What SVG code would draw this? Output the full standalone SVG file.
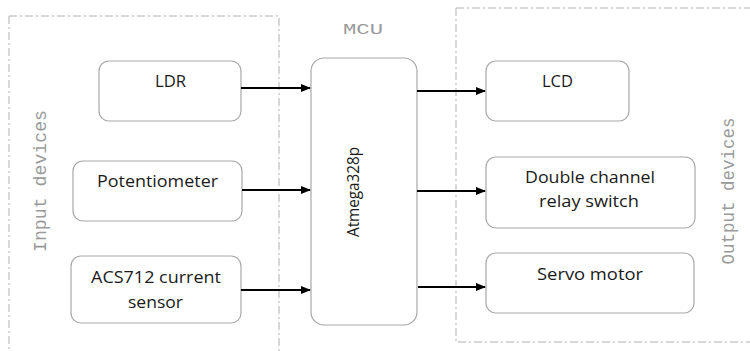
<svg xmlns="http://www.w3.org/2000/svg" width="750" height="351" viewBox="0 0 750 351">
<style>
.frame{fill:none;stroke:#b0b0b0;stroke-width:1;stroke-dasharray:8 3 2 3}
.node{fill:#fff;stroke:#a8a8a8;stroke-width:1.2}
.lbl{font-family:"Open Sans","Liberation Sans",sans-serif;font-size:16px;fill:#1a1a1a;text-anchor:middle}
.grp{font-family:"Liberation Mono","DejaVu Sans Mono",monospace;font-size:17.5px;fill:#9a9a9a;text-anchor:middle}
.conn{stroke:#000;stroke-width:2.2;fill:none;marker-end:url(#ah)}
</style>
<defs>
<marker id="ah" markerWidth="10" markerHeight="8" refX="9" refY="4" orient="auto" markerUnits="userSpaceOnUse">
<path d="M0,0 L10,4 L0,8 Z" fill="#000"/>
</marker>
</defs>
<rect width="750" height="351" fill="#fff"/>
<g id="frames">
<rect class="frame" x="9" y="16" width="270" height="350"/>
<rect class="frame" x="456" y="8" width="310" height="334"/>
<text class="grp" transform="translate(46,181) rotate(-90)" textLength="142" lengthAdjust="spacingAndGlyphs">Input devices</text>
<text class="grp" transform="translate(734,191) rotate(-90)" textLength="147" lengthAdjust="spacingAndGlyphs">Output devices</text>
<text class="grp" x="363" y="34" style="font-size:14px" textLength="40" lengthAdjust="spacingAndGlyphs">MCU</text>
</g>
<g id="ldr"><rect class="node" x="99" y="61" width="142" height="60" rx="10"/><text class="lbl" x="170.5" y="87" textLength="31" lengthAdjust="spacingAndGlyphs">LDR</text></g>
<g id="pot"><rect class="node" x="73" y="161" width="169" height="60" rx="10"/><text class="lbl" x="157.5" y="187" textLength="121" lengthAdjust="spacingAndGlyphs">Potentiometer</text></g>
<g id="acs"><rect class="node" x="71" y="256" width="170" height="67" rx="10"/><text class="lbl" x="156" y="283" textLength="130" lengthAdjust="spacingAndGlyphs">ACS712 current</text><text class="lbl" x="155.5" y="308" textLength="55" lengthAdjust="spacingAndGlyphs">sensor</text></g>
<g id="mcu"><rect class="node" x="311" y="58" width="106" height="267" rx="13"/><text class="lbl" transform="translate(359,192) rotate(-90)" textLength="90" lengthAdjust="spacingAndGlyphs">Atmega328p</text></g>
<g id="lcd"><rect class="node" x="486" y="61" width="143" height="60" rx="10"/><text class="lbl" x="557.5" y="87" textLength="31" lengthAdjust="spacingAndGlyphs">LCD</text></g>
<g id="relay"><rect class="node" x="486" y="157" width="209" height="71" rx="10"/><text class="lbl" x="590" y="183" textLength="130" lengthAdjust="spacingAndGlyphs">Double channel</text><text class="lbl" x="589" y="207" textLength="100" lengthAdjust="spacingAndGlyphs">relay switch</text></g>
<g id="servo"><rect class="node" x="486" y="253" width="208" height="60" rx="10"/><text class="lbl" x="590" y="280" textLength="106" lengthAdjust="spacingAndGlyphs">Servo motor</text></g>
<g id="connectors">
<line class="conn" x1="241" y1="88" x2="310" y2="88"/>
<line class="conn" x1="242" y1="190" x2="310" y2="190"/>
<line class="conn" x1="241" y1="290" x2="310" y2="290"/>
<line class="conn" x1="417" y1="91" x2="485" y2="91"/>
<line class="conn" x1="417" y1="191" x2="485" y2="191"/>
<line class="conn" x1="418" y1="287" x2="485" y2="287"/>
</g>
</svg>
